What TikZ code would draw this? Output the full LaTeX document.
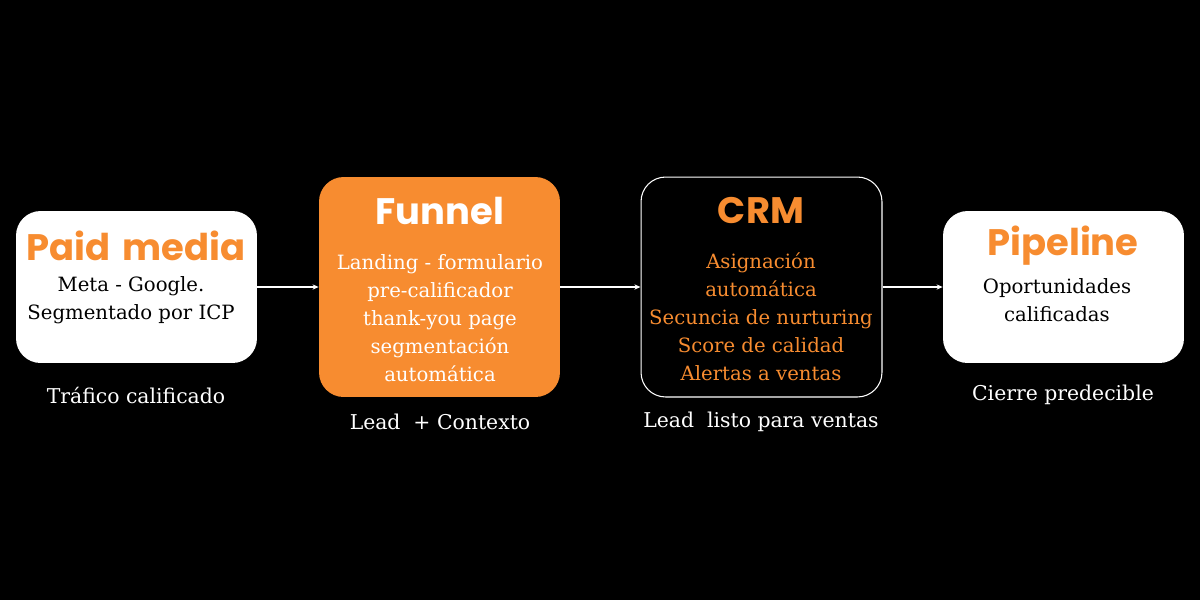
\documentclass[tikz,border=0pt]{standalone}
\usepackage{fontspec}
\setmainfont{DejaVu Serif}
\newfontfamily\titlefont{Poppins}
\usetikzlibrary{arrows.meta}
\definecolor{brandorange}{HTML}{F78C30}

\tikzset{
  card/.style={rounded corners=14pt, minimum width=4.82cm, inner sep=0pt},
  cardtitle/.style={font=\titlefont\bfseries\fontsize{21}{24}\selectfont, inner sep=0pt},
  cardbody/.style={font=\fontsize{11.2}{15.9}\selectfont, align=center, inner sep=0pt},
  caption/.style={font=\fontsize{11.6}{14}\selectfont, text=white, inner sep=0pt},
  flow/.style={draw=white, line width=0.6pt, -{Stealth[length=3.5pt,width=3pt]}}
}

\begin{document}
\begin{tikzpicture}[x=0.02cm, y=-0.02cm]
  \fill[black] (0,0) rectangle (1200,600);

  % boxes
  \node[card, fill=white, minimum height=3.04cm] (paid) at (136.5,287) {};
  \node[card, fill=brandorange, minimum height=4.4cm] (funnel) at (439.5,287) {};
  \node[card, fill=black, draw=white, line width=0.6pt, minimum height=4.4cm] (crm) at (761.5,287) {};
  \node[card, fill=white, minimum height=3.04cm] (pipe) at (1063.5,287) {};

  % titles and text
  \node[cardtitle, text=brandorange] (paidtitle) at (136,246) {Paid\hspace{0.12em} media};
  \node[cardbody, text=black] (paidbody) at (131,300) {Meta - Google.\\Segmentado por ICP};

  \node[cardtitle, text=white] (funneltitle) at (440,211) {Funnel};
  \node[cardbody, text=white] (funnelbody) at (440,318) {Landing - formulario\\pre-calificador\\thank-you page\\segmentación\\automática};

  \node[cardtitle, text=brandorange] (crmtitle) at (761,210) {CRM};
  \node[cardbody, text=brandorange] (crmbody) at (761,317) {Asignación\\automática\\Secuncia de nurturing\\Score de calidad\\Alertas a ventas};

  \node[cardtitle, text=brandorange] (pipetitle) at (1063,246) {Pipeline};
  \node[cardbody, text=black] (pipebody) at (1057,300) {Oportunidades\\calificadas};

  % captions
  \node[caption] (paidcap) at (136,395) {Tráfico calificado};
  \node[caption] (funnelcap) at (440,422) {Lead \ + Contexto};
  \node[caption] (crmcap) at (761,422) {Lead \ listo para ventas};
  \node[caption] (pipecap) at (1063,395) {Cierre predecible};

  % arrows
  \draw[flow] (paid.east) -- (funnel.west);
  \draw[flow] (funnel.east) -- (crm.west);
  \draw[flow] (crm.east) -- (pipe.west);
\end{tikzpicture}
\end{document}
